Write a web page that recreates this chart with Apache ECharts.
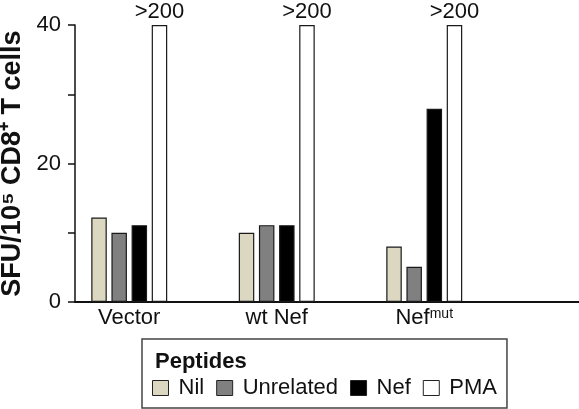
<!DOCTYPE html>
<html>
<head>
<meta charset="utf-8">
<script src="https://cdn.jsdelivr.net/npm/echarts@6/dist/echarts.min.js"></script>
<style>html,body{margin:0;padding:0;background:#fff}#c{width:579px;height:409px}</style>
</head>
<body>
<div id="c"></div>
<script>
var categories = ['Vector', 'wt Nef', 'Nef^mut'];
var seriesNames = ['Nil', 'Unrelated', 'Nef', 'PMA'];
var nilValues = [12.2, 10.0, 8.0];
var unrelatedValues = [10.0, 11.1, 5.1];
var nefValues = [11.1, 11.1, 27.9];
var pmaValues = [40, 40, 40];
var pmaLabels = ['>200', '>200', '>200'];
var yTicks = [0, 20, 40];

var FONT = "'Liberation Sans', Arial, Helvetica, sans-serif";
var colors = ['#dcd7c1', '#808080', '#000000', '#ffffff'];
var allValues = [nilValues, unrelatedValues, nefValues, pmaValues];

var chart = echarts.init(document.getElementById('c'), null, {renderer: 'canvas'});

var series = seriesNames.map(function (name, i) {
  var s = {
    name: name,
    type: 'bar',
    xAxisIndex: 1,
    yAxisIndex: 1,
    data: allValues[i],
    barWidth: 15.5,
    barGap: '30%',
    itemStyle: {color: colors[i], borderColor: '#1a1a1a', borderWidth: 1.2},
    emphasis: {disabled: true},
    animation: false
  };
  if (name === 'PMA') {
    s.label = {
      show: true, position: 'top', distance: 2,
      formatter: function (p) { return pmaLabels[p.dataIndex]; },
      fontFamily: FONT, fontSize: 22, color: '#111'
    };
  }
  return s;
});

var option = {
  backgroundColor: '#ffffff',
  animation: false,
  textStyle: {fontFamily: FONT},
  title: {
    text: 'Peptides', left: 150, top: 346,
    textStyle: {fontFamily: FONT, fontSize: 22, fontWeight: 'bold', color: '#111'}
  },
  legend: {
    data: seriesNames,
    left: 142, top: 339,
    orient: 'horizontal',
    padding: [38, 10, 9, 10],
    itemWidth: 16, itemHeight: 15, itemGap: 12,
    icon: 'rect',
    backgroundColor: '#ffffff',
    borderColor: '#444444', borderWidth: 1.5,
    itemStyle: {borderColor: '#222222', borderWidth: 1},
    textStyle: {fontFamily: FONT, fontSize: 22, color: '#111', padding: [0, 0, 0, 5]},
    selectedMode: false
  },
  grid: [
    {left: 75, right: 0, top: 25, bottom: 107, containLabel: false, outerBoundsMode: 'none'},
    {left: 55.5, width: 442.5, top: 25, bottom: 107, containLabel: false, outerBoundsMode: 'none'}
  ],
  xAxis: [
    {
      gridIndex: 0, type: 'value', min: 0, max: 1,
      axisLine: {show: true, onZero: false, lineStyle: {color: '#111', width: 2}},
      axisTick: {show: false}, axisLabel: {show: false}, splitLine: {show: false}
    },
    {
      gridIndex: 1, type: 'category', data: categories,
      axisLine: {show: false}, axisTick: {show: false}, splitLine: {show: false},
      axisLabel: {
        interval: 0, hideOverlap: false,
        margin: 5, fontFamily: FONT, fontSize: 22, color: '#111',
        formatter: function (v) {
          var parts = v.split('^');
          return parts.length > 1 ? '{b|' + parts[0] + '}{s|' + parts[1] + '}' : v;
        },
        rich: {
          b: {fontFamily: FONT, fontSize: 22, color: '#111'},
          s: {fontFamily: FONT, fontSize: 14, color: '#111', verticalAlign: 'top'}
        }
      }
    }
  ],
  yAxis: [
    {
      gridIndex: 0, type: 'value', min: 0, max: 40, interval: 10,
      name: 'SFU/10\u2075 CD8\u207A T cells',
      nameLocation: 'middle', nameGap: 47,
      nameTextStyle: {fontFamily: FONT, fontSize: 27, fontWeight: 'bold', color: '#111'},
      axisLine: {show: true, lineStyle: {color: '#111', width: 1.5}},
      axisTick: {show: true, inside: false, length: 7, lineStyle: {color: '#111', width: 1.5}},
      axisLabel: {
        margin: 14, fontFamily: FONT, fontSize: 22, color: '#111',
        formatter: function (v) { return yTicks.indexOf(v) >= 0 ? String(v) : ''; }
      },
      splitLine: {show: false}
    },
    {
      gridIndex: 1, type: 'value', min: 0, max: 40, interval: 10, show: false,
      splitLine: {show: false}
    }
  ],
  series: series
};
chart.setOption(option);
</script>
</body>
</html>
